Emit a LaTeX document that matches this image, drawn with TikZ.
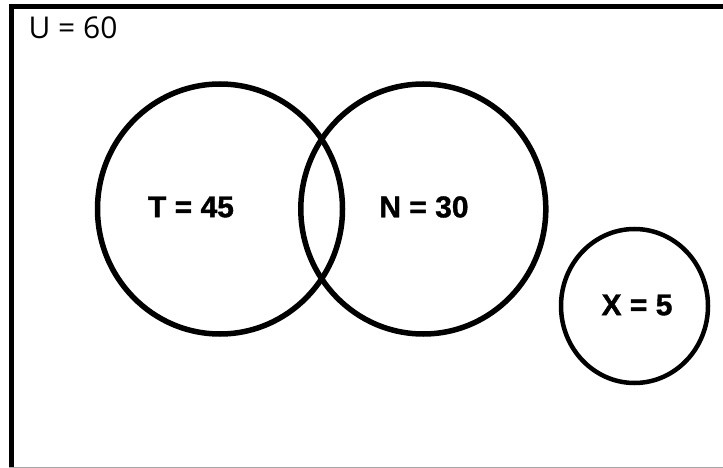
\documentclass[tikz,border=0pt]{standalone}
\usepackage{fontspec}
\setmainfont{Liberation Sans}
\newfontfamily\ufont{Open Sans}
\newfontfamily\lblfont[BoldFeatures={FakeBold=1.2}]{Liberation Sans}
\begin{document}
\begin{tikzpicture}[x=1pt,y=-1pt,
  setring/.style={draw=black,line width=5.5pt},
  smallring/.style={draw=black,line width=4.5pt},
  setlabel/.style={font=\lblfont\fontsize{30}{32}\selectfont\bfseries,inner sep=0pt}]
\useasboundingbox (0,0) rectangle (723,468);
\fill[white] (0,0) rectangle (723,468);
% frame
\draw[line width=5.5pt] (11.5,468) -- (11.5,6.5) -- (730,6.5);
\draw[line width=1pt,gray!70] (9,467.5) -- (723,467.5);
\node[inner sep=0pt,font=\ufont\fontsize{30}{32}\selectfont] (u) at (73,28) {U = 60};
% sets
\draw[setring] (220,209) ellipse [x radius=122.5,y radius=125];
\draw[setring] (423.3,209) ellipse [x radius=122.5,y radius=125];
\draw[smallring] (634.5,306) ellipse [x radius=73.5,y radius=77];
\node[setlabel] (t) at (191,207) {T = 45};
\node[setlabel] (n) at (424,207) {N = 30};
\node[setlabel] (x) at (637,305) {X = 5};
\end{tikzpicture}
\end{document}
